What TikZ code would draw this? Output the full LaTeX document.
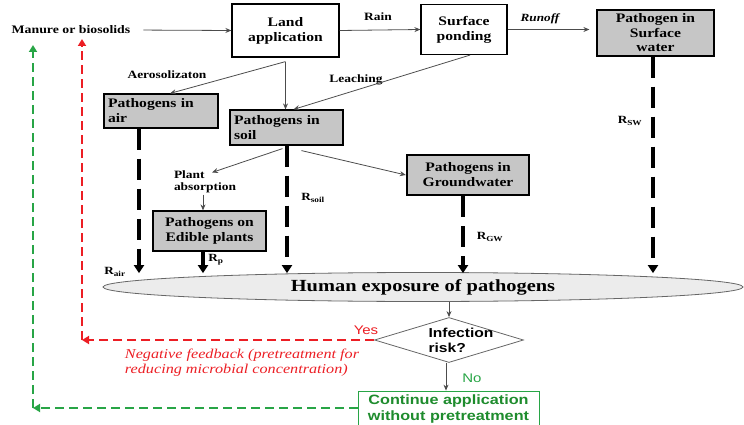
\documentclass[tikz,border=0pt]{standalone}
\usepackage{fontspec}
\setmainfont{Liberation Serif}[FakeStretch=1.2]
\newfontfamily\sansf{Liberation Sans}[FakeStretch=1.2]
\usetikzlibrary{arrows.meta,shapes.geometric}
\definecolor{boxgray}{RGB}{198,198,198}
\definecolor{ellgray}{RGB}{236,236,236}
\definecolor{fbred}{RGB}{236,30,36}
\definecolor{okgreen}{RGB}{30,140,45}
\definecolor{dashgreen}{RGB}{40,165,70}

\begin{document}
\begin{tikzpicture}[x=1pt,y=-1pt,
    wbox/.style={draw,line width=1.2pt,fill=white,align=center,inner sep=1pt,
      font=\bfseries\fontsize{13}{15}\selectfont},
    gbox/.style={wbox,fill=boxgray},
    lbl/.style={font=\bfseries\fontsize{11.2}{12.5}\selectfont,inner sep=1pt},
    rlbl/.style={font=\bfseries\fontsize{11}{13}\selectfont,inner sep=1pt},
    flow/.style={draw=black!70,thick,-{Stealth[length=6pt,width=5pt]}},
    rdash/.style={line width=3.5pt,dash pattern=on 21pt off 9pt,-{Triangle[length=8pt,width=10pt]}},
    fb/.style={line width=2pt,dash pattern=on 9pt off 5pt,-{Triangle[length=7pt,width=8pt]}}]
  \useasboundingbox (0,0) rectangle (744,425);

  % top row
  \node[lbl,font=\bfseries\fontsize{11.5}{13}\selectfont] (manure) at (71,30) {Manure or biosolids};
  \node[wbox,minimum width=107,minimum height=53] (land) at (285.5,30.5) {Land\\application};
  \node[wbox,minimum width=86,minimum height=50] (pond) at (464,29.5) {Surface\\ponding};
  \node[gbox,inner sep=0pt,minimum width=117,minimum height=46,
    font=\bfseries\fontsize{13}{14.5}\selectfont] (swater) at (655.5,33) {Pathogen in\\Surface\\water};
  \node[lbl] (rain) at (378,17) {Rain};
  \node[lbl,font=\bfseries\itshape\fontsize{11}{12.5}\selectfont] (runoff) at (540,19) {Runoff};

  % pathogen boxes
  \node[gbox,minimum width=114,minimum height=34,text width=106,align=left] (air) at (161,111) {Pathogens in\\air};
  \node[gbox,minimum width=113,minimum height=35,text width=105,align=left] (soil) at (286.5,127.5) {Pathogens in\\soil};
  \node[lbl,align=left] (plant) at (205,182) {Plant\\absorption};
  \node[gbox,minimum width=113,minimum height=40] (edible) at (209.5,231) {Pathogens on\\Edible plants};
  \node[gbox,line width=2.4pt,minimum width=122,minimum height=40] (gw) at (468,175) {Pathogens in\\Groundwater};
  \node[lbl] (aero) at (167,75) {Aerosolizaton};
  \node[lbl] (leach) at (356,80) {Leaching};

  % exposure and decision
  \node[ellipse,draw=black!60,thick,fill=ellgray,inner sep=0pt,minimum width=640,minimum height=29,
    font=\bfseries\fontsize{17}{20}\selectfont] (expo) at (423,287) {Human exposure of pathogens};
  \node[diamond,draw=black!60,thick,inner sep=0pt,minimum width=149,minimum height=45] (risk) at (449,340) {};
  \node[font=\sansf\bfseries\fontsize{13}{15}\selectfont,align=left,inner sep=0pt] (riskt) at (461,340) {Infection\\risk?};
  \node[draw=dashgreen,thick,fill=white,text=okgreen,align=center,minimum width=181,minimum height=36,inner sep=1pt,
    font=\sansf\bfseries\fontsize{13.5}{16}\selectfont] (cont) at (448.5,409) {Continue application\\without pretreatment};
  \node[text=fbred,font=\sansf\fontsize{12.5}{14}\selectfont] (yes) at (366,330) {Yes};
  \node[text=dashgreen,font=\sansf\fontsize{12.5}{14}\selectfont] (no) at (472,378) {No};
  \node[text=fbred,align=left,font=\itshape\fontsize{13.5}{15}\selectfont] (negfb) at (242,363)
    {Negative feedback (pretreatment for\\reducing microbial concentration)};

  % risk labels
  \node[rlbl] (rair) at (115,272) {R\textsubscript{air}};
  \node[rlbl] (rp) at (216,260) {R\textsubscript{p}};
  \node[rlbl] (rsoil) at (313,198) {R\textsubscript{soil}};
  \node[rlbl] (rgw) at (490,237) {R\textsubscript{GW}};
  \node[rlbl] (rsw) at (630,121) {R\textsubscript{SW}};

  % thin flows
  \draw[flow,shorten <=12pt] (manure.east) -- (land.west);
  \draw[flow] (land.east) -- (pond.west);
  \draw[flow,shorten >=7pt] (pond.east) -- (pond.east -| swater.west);
  \draw[flow] ([yshift=-4pt]land.south) -- ([xshift=9pt]air.north);
  \draw[flow] ([yshift=-4pt]land.south) -- (land.south |- soil.north);
  \draw[flow] ([xshift=6pt]pond.south) -- ([xshift=7pt]soil.north);
  \draw[flow] ([xshift=-4pt,yshift=-3pt]soil.south) -- ([xshift=7pt,yshift=-3pt]plant.north);
  \draw[flow] ([xshift=15pt,yshift=-5pt]soil.south) -- (gw.west);
  \draw[flow] ([xshift=-2pt]plant.south) -- ([xshift=-2pt]plant.south |- edible.north);

  % exposure routes
  \foreach \n/\dx in {air/-22,soil/0.5,gw/-5,swater/-2.5}{
    \draw[rdash] ([xshift=\dx]\n.south) -- ([xshift=\dx,yshift=-1pt]\n.south |- expo.north);}
  \draw[line width=3.5pt,-{Triangle[length=8pt,width=10pt]}] ([xshift=-6.5]edible.south)
    -- ([xshift=-6.5,yshift=-1pt]edible.south |- expo.north);

  % decision
  \draw[flow] (risk.north |- expo.south) -- (risk.north);
  \draw[flow] ([xshift=-3pt]risk.south) -- ([xshift=-3pt]risk.south |- cont.north);
  \coordinate (redcorner) at (82,340);
  \coordinate (redtop) at (82,39);
  \coordinate (grncorner) at (33,408);
  \coordinate (grntop) at (33,45);
  \draw[fb,fbred] (risk.west) -- (redcorner);
  \draw[fb,fbred] (redcorner) -- (redtop);
  \draw[fb,dashgreen] (cont.west |- grncorner) -- (grncorner);
  \draw[fb,dashgreen] (grncorner) -- (grntop);
\end{tikzpicture}
\end{document}
